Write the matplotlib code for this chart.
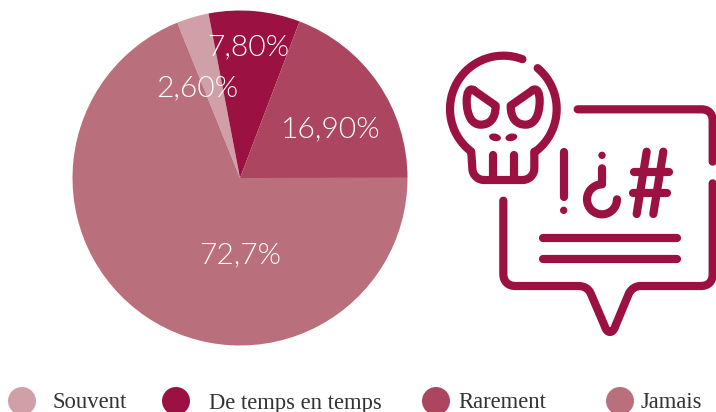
import os
import numpy as np
import matplotlib
matplotlib.use("Agg")
import matplotlib.pyplot as plt
from matplotlib import font_manager as fm
from matplotlib.path import Path
from matplotlib.patches import PathPatch, Circle, Ellipse

# Shares as drawn in the picture (the printed labels differ from the slice sizes)
categories = ["Souvent", "De temps en temps", "Rarement", "Jamais"]
drawn_shares = [3.1, 8.8, 19.2, 68.9]
slice_labels = ["2,60%", "7,80%", "16,90%", "72,7%"]
colors = ["#D09FA8", "#9B1141", "#AB4560", "#BA707C"]
ICON = "#9B1141"

# pick a true "light" Lato, otherwise regular
files = fm.findSystemFonts()
light = [f for f in files if os.path.basename(f).lower() in ("lato-light.ttf", "lato-light.otf")]
if light:
    label_font = fm.FontProperties(fname=light[0], size=21.6)
else:
    label_font = fm.FontProperties(family="Lato", weight="regular", size=21.6)

W, H = 716, 412
fig = plt.figure(figsize=(W / 100, H / 100), dpi=100)
ax = fig.add_axes([0, 0, 1, 1])
ax.pie(drawn_shares, colors=colors, startangle=112, counterclock=False,
       center=(240, H - 178), radius=167.5, frame=False)
ax.set_xlim(0, W)
ax.set_ylim(0, H)
ax.set_aspect("equal")
ax.axis("off")

label_pos = [(197, 88), (248, 47), (331, 129), (240, 255)]
for t, (x, y) in zip(slice_labels, label_pos):
    ax.text(x, H - y, t, color="white", fontproperties=label_font, ha="center", va="center")

# legend
circle_x = [22, 176, 436, 620]
text_x = [52, 209, 458, 641]
for c, name, cx, tx in zip(colors, categories, circle_x, text_x):
    ax.add_patch(Circle((cx, H - 401), 14, color=c, lw=0))
    ax.text(tx, H - 403, name, color="#333333", fontsize=16.3, family="Liberation Serif",
            ha="left", va="center")

# icon, outlined in zoom-crop units
def T(p):
    p = np.asarray(p, float)
    return np.column_stack([430 + p[:, 0] / 3, H - (40 + p[:, 1] / 3)])

def arc(cx, cy, r, a0, a1, n=40):
    a = np.radians(np.linspace(a0, a1, n))
    return np.column_stack([cx + r * np.cos(a), cy + r * np.sin(a)])

LW = 5.9

def stroke(p):
    ax.add_patch(PathPatch(Path(T(p)), fill=False, ec=ICON, lw=LW, capstyle="round", joinstyle="round"))

def bez(verts, codes):
    ax.add_patch(PathPatch(Path(T(verts), codes), fill=False, ec=ICON, lw=LW,
                           capstyle="round", joinstyle="round"))

def dot(x, y, r=11):
    ax.add_patch(Circle(T([[x, y]])[0], r / 3, color=ICON, lw=0))

# skull
left = arc(220, 207, 160, 291, 127)
jaw = np.vstack([left, [[127, 385]], arc(162, 385, 35, 180, 90, 10), arc(278, 385, 35, 90, 0, 10), [[313, 335]]])
stroke(jaw)
stroke(arc(220, 207, 160, 54, -50))
for x in (190, 252):
    stroke([[x, 345], [x, 420]])

M, L, C = Path.MOVETO, Path.LINETO, Path.CURVE4
eye = [(130, 150), (197, 197), (197, 235), (180, 254), (152, 254), (125, 254), (110, 225),
       (110, 182), (110, 158), (118, 143), (130, 150)]
codes = [M, L, C, C, C, C, C, C, C, C, C]
bez(eye, codes)
bez([(439 - x, y) for x, y in eye], codes)
for x, ang in ((195, -12), (244, 12)):
    ax.add_patch(Ellipse(T([[x, 292]])[0], 12, 7.5, angle=ang, color=ICON, lw=0))

# speech bubble
bez([(443, 208), (815, 208), (835, 208), (848, 221), (848, 241), (848, 365)], [M, L, C, C, C, L])
bez([(848, 430), (848, 702), (848, 725), (835, 738), (812, 738), (632, 738),
     (618, 738), (605, 745), (597, 760), (556, 858), (549, 882), (531, 882), (524, 858),
     (482, 760), (475, 745), (462, 738), (445, 738), (256, 738),
     (235, 738), (220, 725), (220, 702), (220, 482)],
    [M, L, C, C, C, L, C, C, C, L, C, C, C, L, C, C, C, L, C, C, C, L])

# exclamation, question mark, hash
stroke([[401, 335], [401, 470]])
dot(401, 511)
dot(516, 346)
stroke(np.vstack([[[516, 385], [516, 433]], arc(516, 478, 45, -90, -360, 30)]))
stroke([[650, 335], [620, 522]])
stroke([[700, 335], [670, 522]])
stroke([[612, 395], [718, 395]])
stroke([[608, 460], [712, 460]])
stroke([[340, 594], [740, 594]])
stroke([[340, 657], [740, 657]])

fig.savefig("out.png", dpi=100)
